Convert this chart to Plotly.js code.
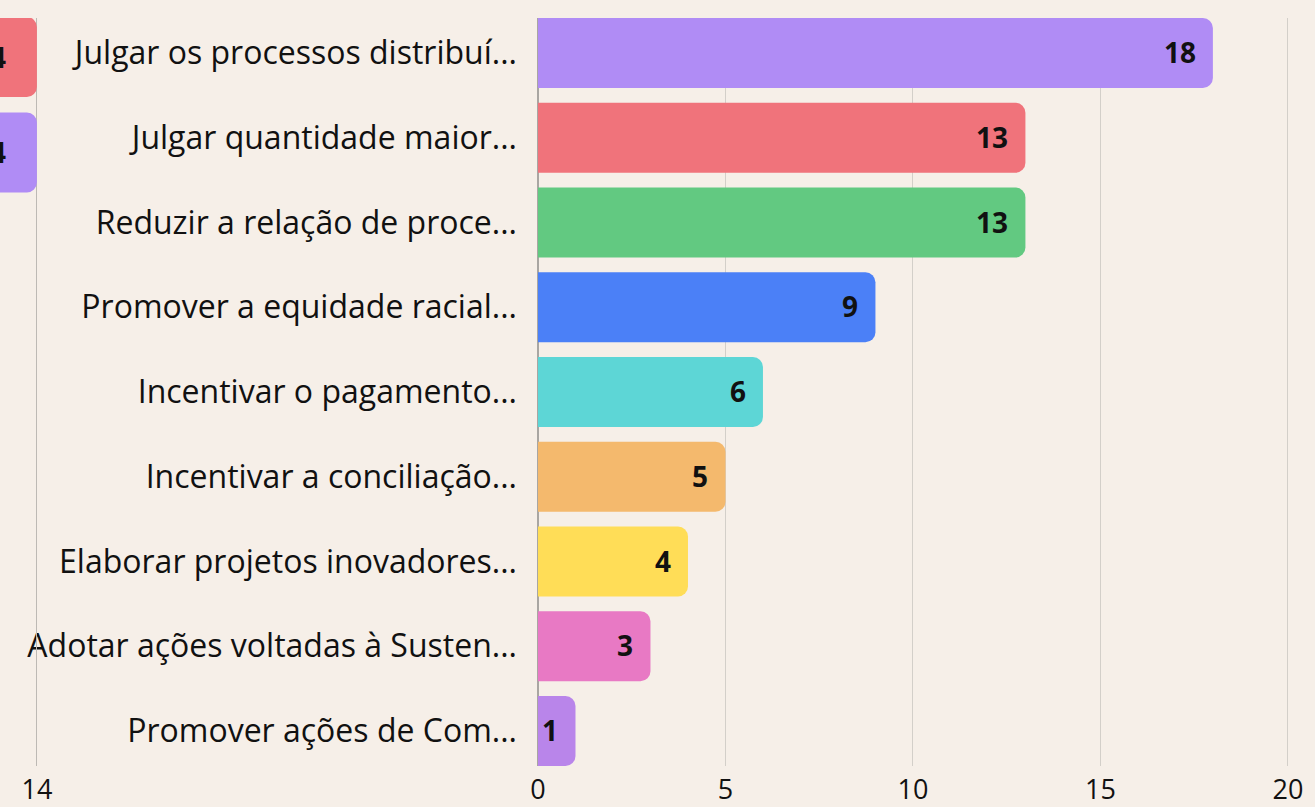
<!DOCTYPE html>
<html>
<head>
<meta charset="utf-8">
<script src="https://cdn.plot.ly/plotly-3.0.1.min.js"></script>
<style>
  html, body { margin: 0; padding: 0; background: #f6efe8; }
  #chart { width: 1315px; height: 807px; }
</style>
</head>
<body>
<div id="chart"></div>
<script>
// main chart data
var categories = [
    'Julgar os processos distribuí...',
    'Julgar quantidade maior...',
    'Reduzir a relação de proce...',
    'Promover a equidade racial...',
    'Incentivar o pagamento...',
    'Incentivar a conciliação...',
    'Elaborar projetos inovadores...',
    'Adotar ações voltadas à Susten...',
    'Promover ações de Com...'
];
var values = [18, 13, 13, 9, 6, 5, 4, 3, 1];
var barColors = ['#b08cf5', '#f0737b', '#62c981', '#4b80f7', '#5dd6d6',
                 '#f4b96d', '#ffdd57', '#e879c4', '#b985ea'];
var xTicks = [0, 5, 10, 15, 20];

// neighbouring chart, only its right edge shows at the left of the picture
var sideRows = [0, 1];
var sideValues = [14, 14];
var sideColors = ['#f0737b', '#b08cf5'];
var sideTicks = [14];

var FONT = 'Open Sans, sans-serif';
var INK = '#111111';

var mainTrace = {
    type: 'bar',
    orientation: 'h',
    x: values,
    y: categories,
    width: 0.826,
    marker: { color: barColors, cornerradius: 10 },
    hoverinfo: 'skip',
    xaxis: 'x',
    yaxis: 'y'
};

var sideTrace = {
    type: 'bar',
    orientation: 'h',
    x: sideValues,
    y: sideRows,
    width: 0.838,
    marker: { color: sideColors, cornerradius: 10 },
    hoverinfo: 'skip',
    xaxis: 'x2',
    yaxis: 'y2'
};

var annotations = [];
for (var i = 0; i < values.length; i++) {
    annotations.push({
        x: values[i], y: categories[i], xref: 'x', yref: 'y',
        text: String(values[i]), showarrow: false,
        xanchor: 'right', xshift: -15, yshift: 1,
        font: { family: FONT, size: 28, color: INK, weight: 700 }
    });
}
for (var j = 0; j < sideValues.length; j++) {
    annotations.push({
        x: sideValues[j], y: sideRows[j], xref: 'x2', yref: 'y2',
        text: String(sideValues[j]), showarrow: false,
        xanchor: 'right', xshift: -29,
        font: { family: FONT, size: 28, color: INK, weight: 700 }
    });
}

// ranges run a hair past the last tick so its grid line is drawn
var layout = {
    width: 1315,
    height: 807,
    margin: { l: 0, r: 26, t: 18, b: 41, pad: 0 },
    paper_bgcolor: '#f6efe8',
    plot_bgcolor: '#f6efe8',
    showlegend: false,
    font: { family: FONT, color: INK, size: 27 },
    xaxis: {
        domain: [538 / 1289, 1],
        range: [0, 20.03],
        tickvals: xTicks,
        showgrid: true,
        gridcolor: '#d3cfc9',
        zeroline: true,
        zerolinecolor: '#a9a6a2',
        zerolinewidth: 1.5,
        showline: false,
        ticks: '',
        ticklabelstandoff: 5,
        tickfont: { size: 27, color: INK },
        fixedrange: true,
        anchor: 'y'
    },
    yaxis: {
        type: 'category',
        range: [8.413, -0.413],
        showgrid: false,
        zeroline: false,
        ticks: '',
        ticklabelstandoff: 20,
        tickfont: { size: 32, color: INK },
        automargin: false,
        fixedrange: true,
        anchor: 'x'
    },
    xaxis2: {
        domain: [0, 38 / 1289],
        range: [13, 14.03],
        tickvals: sideTicks,
        showgrid: true,
        gridcolor: '#bdb9b4',
        zeroline: false,
        ticks: '',
        ticklabelstandoff: 5,
        tickfont: { size: 27, color: INK },
        fixedrange: true,
        anchor: 'y2'
    },
    yaxis2: {
        range: [7.424, -0.408],
        showgrid: false,
        zeroline: false,
        showticklabels: false,
        ticks: '',
        fixedrange: true,
        anchor: 'x2'
    },
    annotations: annotations
};

Plotly.newPlot('chart', [sideTrace, mainTrace], layout, { displayModeBar: false, staticPlot: true });
</script>
</body>
</html>
